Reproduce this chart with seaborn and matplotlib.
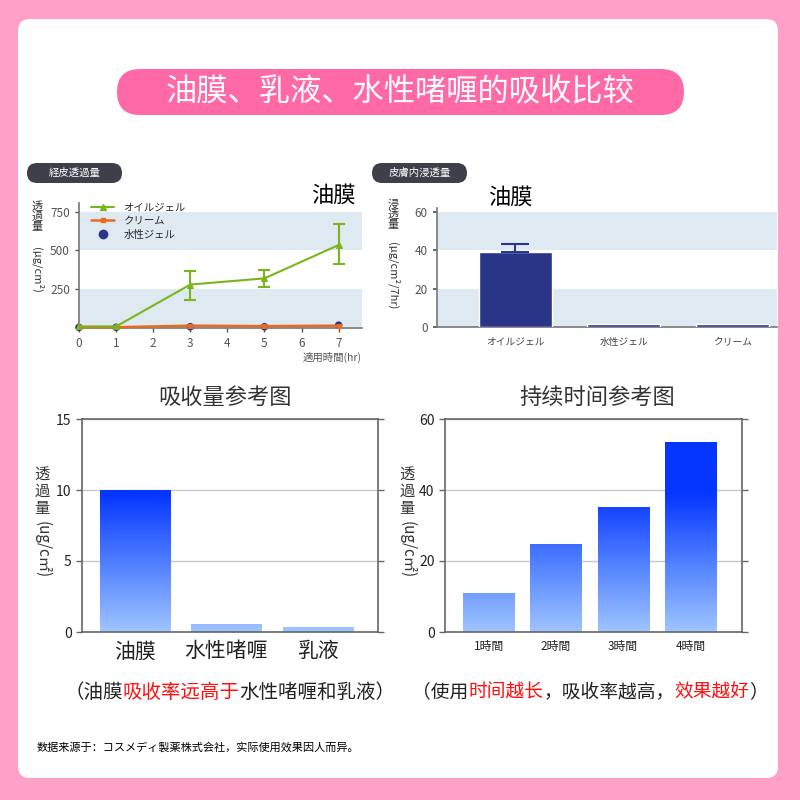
import numpy as np
import matplotlib
matplotlib.use("Agg")
import matplotlib.pyplot as plt
import seaborn as sns
from matplotlib.patches import FancyBboxPatch
from matplotlib.colors import LinearSegmentedColormap
from matplotlib.lines import Line2D

sns.set_theme(style="white")
plt.rcParams['font.family'] = ['Noto Sans CJK SC', 'DejaVu Sans']
JP = ['Noto Sans CJK JP', 'DejaVu Sans']

#%% Data
hours = [0, 1, 3, 5, 7]
oil_gel = [10, 10, 280, 320, 535]
oil_lo = [10, 10, 180, 265, 415]
oil_hi = [10, 10, 365, 375, 670]
cream = [5, 5, 15, 12, 15]
water_gel = [4, 4, 8, 8, 18]
line_labels = ['オイルジェル', 'クリーム', '水性ジェル']

skin_cats = ['オイルジェル', '水性ジェル', 'クリーム']
skin_vals = [39, 1.4, 1.5]
skin_err_up = 4

absorb_cats = ['油膜', '水性啫喱', '乳液']
absorb_vals = [10, 0.5, 0.3]

time_cats = ['1時間', '2時間', '3時間', '4時間']
time_vals = [10.8, 24.6, 35.0, 53.3]

#%% Colors
PINK_BG = "#FFA0C8"
PINK = "#FF69A6"
GREEN = "#7AB51D"
ORANGE = "#EA6A1F"
NAVY = "#2B3588"
BAND = "#DFE9F1"
TAG = "#3D4049"
GREY = "#777777"
RED = "#FF1010"

fig = plt.figure(figsize=(8, 8), dpi=100, facecolor=PINK_BG)
bg = fig.add_axes([0, 0, 1, 1], zorder=0)
bg.set_xlim(0, 800)
bg.set_ylim(800, 0)
bg.axis('off')


def fig_axes(l, t, r, b):
    ax = fig.add_axes([l / 800, 1 - b / 800, (r - l) / 800, (b - t) / 800], zorder=1)
    ax.set_facecolor('none')
    return ax


def vlabel(x, y_top, cjk, latin, size, fam, step):
    bg.text(x, y_top, "\n".join(cjk), ha='center', va='top', fontsize=size,
            linespacing=1.0, family=fam, color='#333333')
    bg.text(x, y_top + step * len(cjk) + 4, latin, ha='center', va='top',
            rotation=270, fontsize=size, family=fam, color='#333333')


# panel + header
bg.add_patch(FancyBboxPatch((18, 19), 760, 759, boxstyle="round,pad=0,rounding_size=12",
                            fc='white', ec='none'))
bg.add_patch(FancyBboxPatch((117, 69), 567, 46, boxstyle="round,pad=0,rounding_size=23",
                            fc=PINK, ec='none'))
bg.text(400, 92, "油膜、乳液、水性啫喱的吸收比较", ha='center', va='center',
        fontsize=22.5, color='white')

for x0, s in [(27, "経皮透過量"), (372, "皮膚内浸透量")]:
    bg.add_patch(FancyBboxPatch((x0, 163), 95, 20, boxstyle="round,pad=0,rounding_size=10",
                                fc=TAG, ec='none'))
    bg.text(x0 + 47.5, 173, s, ha='center', va='center', fontsize=7.5, color='white', family=JP)

#%% Plot 1 - line chart
ax1 = fig_axes(79, 203, 362, 328)
ax1.axhspan(0, 250, color=BAND, zorder=0, lw=0)
ax1.axhspan(500, 750, color=BAND, zorder=0, lw=0)
sns.lineplot(x=hours, y=cream, color=ORANGE, marker='s', markersize=3.5, mec=ORANGE,
             lw=1.8, ax=ax1, clip_on=False, zorder=3)
sns.lineplot(x=hours, y=oil_gel, color=GREEN, marker='^', markersize=4, mec=GREEN,
             lw=1.5, ax=ax1, clip_on=False, zorder=4)
ax1.errorbar(hours[2:], oil_gel[2:],
             yerr=[np.subtract(oil_gel, oil_lo)[2:], np.subtract(oil_hi, oil_gel)[2:]],
             fmt='none', ecolor=GREEN, capsize=4, elinewidth=1.5, capthick=1.5, zorder=4)
sns.scatterplot(x=hours, y=water_gel, color=NAVY, marker='o', s=30, ax=ax1,
                clip_on=False, zorder=2, edgecolor='none')
ax1.set_xlim(0, 7.63)
ax1.set_ylim(0, 806)
ax1.set_xticks(range(8))
ax1.set_yticks([250, 500, 750])
for sp in ['top', 'right']:
    ax1.spines[sp].set_visible(False)
for sp in ['left', 'bottom']:
    ax1.spines[sp].set_color(GREY)
    ax1.spines[sp].set_linewidth(1.2)
ax1.tick_params(labelsize=8.5, colors='#555555', length=3, width=1, left=True, bottom=True)
handles = [Line2D([], [], color=GREEN, marker='^', markersize=4, lw=1.5),
           Line2D([], [], color=ORANGE, marker='s', markersize=3.5, lw=1.8),
           Line2D([], [], color=NAVY, marker='o', markersize=6, lw=0)]
ax1.legend(handles, line_labels, loc='upper left', bbox_to_anchor=(0.01, 1.08),
           frameon=False, prop={'family': JP, 'size': 7.5}, handlelength=2.2,
           labelspacing=0.35, handletextpad=0.9)
bg.text(362, 357, "適用時間(hr)", ha='right', va='center', fontsize=7.5, color='#555555', family=JP)
bg.text(333, 195, "油膜", ha='center', va='center', fontsize=16, color='black')
vlabel(37, 201, "透過量", "(μg/cm²)", 8, JP, 14)

#%% Plot 2 - skin penetration bars
ax2 = fig_axes(437, 208, 777, 327)
ax2.axhspan(0, 20, color=BAND, zorder=0, lw=0)
ax2.axhspan(40, 60, color=BAND, zorder=0, lw=0)
sns.barplot(x=skin_cats, y=skin_vals, color=NAVY, saturation=1, width=0.67, ax=ax2, zorder=3)
ax2.errorbar(0, skin_vals[0], yerr=[[0], [skin_err_up]], fmt='none', ecolor=NAVY,
             capsize=10, elinewidth=1.5, capthick=1.5, zorder=3)
ax2.set_xlim(-0.72, 2.41)
ax2.set_ylim(0, 62)
ax2.set_yticks([0, 20, 40, 60])
for sp in ['top', 'right']:
    ax2.spines[sp].set_visible(False)
for sp in ['left', 'bottom']:
    ax2.spines[sp].set_color(GREY)
    ax2.spines[sp].set_linewidth(1.2)
ax2.tick_params(axis='y', labelsize=8.5, colors='#555555', length=3, left=True)
ax2.tick_params(axis='x', labelsize=7, colors='#444444', length=0, pad=7)
for lab in ax2.get_xticklabels():
    lab.set_family(JP)
bg.text(510, 197, "油膜", ha='center', va='center', fontsize=16, color='black')
vlabel(393, 199, "浸透量", "(μg/cm²/7hr)", 8, JP, 13)

#%% Plots 3/4 - gradient bars
cmap = LinearSegmentedColormap.from_list('blues', ['#A0C4FF', '#5080FF', '#0536FF'])


def gradient_bars(ax, ytop):
    for p in list(ax.patches):
        x0, w, h = p.get_x(), p.get_width(), p.get_height()
        ys = np.linspace(0, h, 200)
        vals = np.clip(ys / (0.65 * ytop), 0, 1)[:, None]
        ax.imshow(vals, cmap=cmap, vmin=0, vmax=1, extent=[x0, x0 + w, 0, h],
                  origin='lower', aspect='auto', zorder=2)
        p.set_visible(False)


def style_box(ax, ymax, yticks, xlim, xsize):
    ax.set_xlim(*xlim)
    ax.set_ylim(0, ymax)
    ax.set_yticks(yticks)
    ax.yaxis.grid(True, color='#C8C8C8', lw=1, zorder=0)
    ax.set_axisbelow(True)
    for sp in ax.spines.values():
        sp.set_visible(True)
        sp.set_color('#666666')
        sp.set_linewidth(1.2)
    ax.tick_params(axis='y', labelsize=10, colors='#222222', length=4, width=1,
                   left=True, right=True, color='#666666')
    ax.tick_params(axis='x', labelsize=xsize, colors='#222222', length=0, pad=6)


ax3 = fig_axes(82, 419, 378, 632)
sns.barplot(x=absorb_cats, y=absorb_vals, color='#5080FF', saturation=1, width=0.77, ax=ax3)
gradient_bars(ax3, 15)
style_box(ax3, 15, [0, 5, 10, 15], (-0.58, 2.66), 15)
bg.text(225, 397, "吸收量参考图", ha='center', va='center', fontsize=16, color='#333333')
vlabel(42, 466, "透過量", "(ug/c㎡)", 11, plt.rcParams['font.family'], 17)

ax4 = fig_axes(445, 419, 742, 632)
sns.barplot(x=time_cats, y=time_vals, color='#5080FF', saturation=1, width=0.76, ax=ax4)
gradient_bars(ax4, 60)
style_box(ax4, 60, [0, 20, 40, 60], (-0.65, 3.77), 8.5)
for lab in ax4.get_xticklabels():
    lab.set_family(JP)
bg.text(597, 397, "持续时间参考图", ha='center', va='center', fontsize=16, color='#333333')
vlabel(407, 466, "透過量", "(ug/c㎡)", 11, plt.rcParams['font.family'], 17)


#%% Captions
def rich_text(x, y, parts, size):
    prev = bg.text(x, y, parts[0][0], color=parts[0][1], fontsize=size, va='center', ha='left')
    for s, c in parts[1:]:
        prev = bg.annotate(s, xy=(1, 0.5), xycoords=prev, color=c, fontsize=size,
                           va='center', ha='left')


rich_text(64, 692, [("（油膜", '#222222'), ("吸收率远高于", RED), ("水性啫喱和乳液）", '#222222')], 14)
rich_text(412, 692, [("（使用", '#222222'), ("时间越长", RED), ("，吸收率越高，", '#222222'),
                     ("效果越好", RED), ("）", '#222222')], 13.5)
bg.text(37, 747, "数据来源于：コスメディ製薬株式会社，实际使用效果因人而异。", fontsize=8,
        va='center', ha='left', color='black')

fig.savefig("out.png", dpi=100, facecolor=PINK_BG)
